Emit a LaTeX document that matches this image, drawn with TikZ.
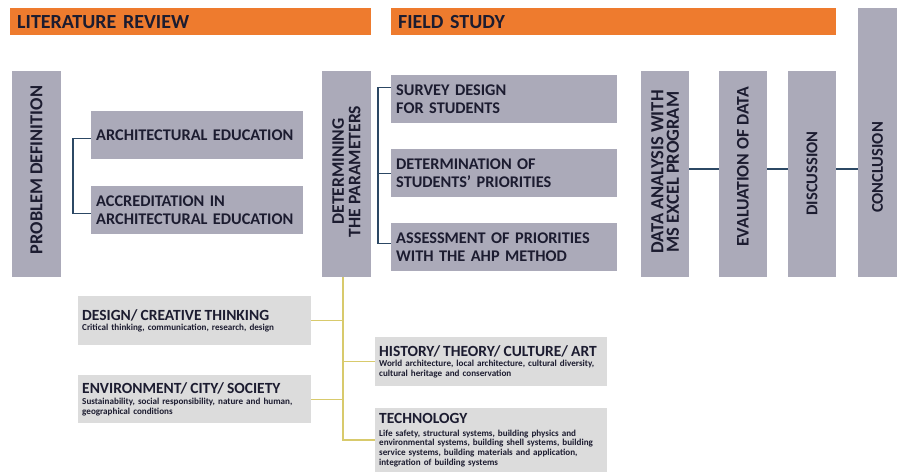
\documentclass[tikz,border=0pt]{standalone}
\usepackage{fontspec}
\setmainfont{Carlito}
\newcommand\areahd{\bfseries\fontsize{15.5}{16}\selectfont}
\begin{document}
\definecolor{hdrorange}{HTML}{EE7B2E}
\definecolor{stepgray}{HTML}{ABAAB9}
\definecolor{areagray}{HTML}{DCDCDC}
\definecolor{inktext}{HTML}{1C1C30}
\definecolor{linkblue}{HTML}{2C4864}
\definecolor{linkyellow}{HTML}{D8CA6C}
\tikzset{
  header/.style={fill=hdrorange, text=inktext, anchor=north west, inner xsep=7pt, inner ysep=0pt,
    font=\bfseries\fontsize{20}{22}\selectfont, align=left},
  hbox/.style={fill=stepgray, text=inktext, anchor=north west, inner xsep=5pt, inner ysep=0pt,
    font=\bfseries\fontsize{16.3}{17.8}\selectfont, align=left},
  vbox/.style={fill=stepgray, text=inktext, rotate=90, inner sep=0pt,
    font=\bfseries\fontsize{16.5}{16.5}\selectfont, align=center},
  vsize/.style 2 args={font=\bfseries\fontsize{#1}{#2}\selectfont},
  areabox/.style={fill=areagray, text=inktext, anchor=north west, inner xsep=4pt, inner ysep=0pt,
    font=\bfseries\fontsize{9.1}{9.7}\selectfont, align=left},
  bluelink/.style={draw=linkblue, line width=1.3pt},
  yellowlink/.style={draw=linkyellow, line width=1.3pt}
}
\begin{tikzpicture}[x=1pt,y=-1pt]
\useasboundingbox (0,0) rectangle (897,472);

% phase headers
\node[header, text width=347pt, minimum height=27pt] (lit) at (10,8) {LITERATURE REVIEW};
\node[header, text width=431pt, minimum height=27pt] (field) at (391,8) {FIELD STUDY};

% literature review steps
\node[vbox, vsize={18.3}{18}, minimum width=206pt, minimum height=49pt] (prob) at (36.5,174)
  {\hspace*{8pt}PROBLEM DEFINITION};
\node[hbox, text width=202pt, minimum height=48pt] (arch) at (91,111) {ARCHITECTURAL EDUCATION};
\node[hbox, text width=202pt, minimum height=48pt] (accr) at (91,186) {ACCREDITATION IN\\ARCHITECTURAL EDUCATION};
\node[vbox, vsize={17.6}{16.5}, minimum width=206pt, minimum height=49pt] (det) at (346.5,174)
  {\hspace*{5pt}DETERMINING\\\hspace*{5pt}THE PARAMETERS};

% field study steps
\node[hbox, text width=216pt, minimum height=48pt] (survey) at (391,75) {SURVEY DESIGN\\FOR STUDENTS};
\node[hbox, text width=216pt, minimum height=48pt] (detm) at (391,149) {DETERMINATION OF\\STUDENTS' PRIORITIES};
\node[hbox, text width=216pt, minimum height=48pt] (assess) at (391,223) {ASSESSMENT OF PRIORITIES\\WITH THE AHP METHOD};

\node[vbox, vsize={18.5}{15.5}, minimum width=206pt, minimum height=48pt] (data) at (665,174)
  {\hspace*{4pt}DATA ANALYSIS WITH\\\hspace*{4pt}MS EXCEL PROGRAM};
\node[vbox, vsize={17.7}{17}, minimum width=206pt, minimum height=48pt] (eval) at (743,174)
  {\hspace*{14pt}EVALUATION OF DATA};
\node[vbox, minimum width=206pt, minimum height=48pt] (disc) at (812,174) {\hspace*{1pt}DISCUSSION};
\fill[stepgray] (858,8) rectangle (897,72);
\node[vbox, minimum width=206pt, minimum height=39pt] (conc) at (877.5,174) {\hspace*{13pt}CONCLUSION};

% parameter areas
\node[areabox, text width=225pt, minimum height=49pt] (design) at (78,296)
  {{\areahd DESIGN/ CREATIVE THINKING}\\[1pt]Critical thinking, communication, research, design};
\node[areabox, text width=225pt, minimum height=48pt] (env) at (78,375)
  {{\areahd ENVIRONMENT/ CITY/ SOCIETY}\\[1pt]Sustainability, social responsibility, nature and human,\\geographical conditions};
\node[areabox, text width=224pt, minimum height=49pt] (hist) at (375,337)
  {{\areahd HISTORY/ THEORY/ CULTURE/ ART}\\[1pt]World architecture, local architecture, cultural diversity,\\cultural heritage and conservation};
\node[areabox, text width=224pt, inner ysep=5pt] (tech) at (375,408)
  {{\areahd TECHNOLOGY}\\[3pt]Life safety, structural systems, building physics and\\environmental systems, building shell systems, building\\service systems, building materials and application,\\integration of building systems};

% brackets
\draw[bluelink] ([yshift=-3pt]arch.west) -- ++(-18,0) |- ([yshift=-3pt]accr.west);
\draw[bluelink] ([yshift=12pt]survey.west) -- ++(-13,0) |- ([yshift=4pt]assess.west);
\draw[bluelink] (detm.west) -- ++(-13,0);

% sequence links
\draw[bluelink] ([yshift=5pt]data.south) -- ([yshift=5pt]eval.north);
\draw[bluelink] ([yshift=5pt]eval.south) -- ([yshift=5pt]disc.north);
\draw[bluelink] ([yshift=5pt]disc.south) -- ([yshift=5pt]conc.north);

% parameter tree
\coordinate (ytop) at (343,277);
\coordinate (ybot) at (343,440);
\draw[yellowlink] (ytop) -- (ybot) -- (ybot -| tech.west);
\draw[yellowlink] (design.east) -- (design.east -| ytop);
\draw[yellowlink] (env.east) -- (env.east -| ytop);
\draw[yellowlink] (hist.west) -- (hist.west -| ytop);
\end{tikzpicture}
\end{document}
